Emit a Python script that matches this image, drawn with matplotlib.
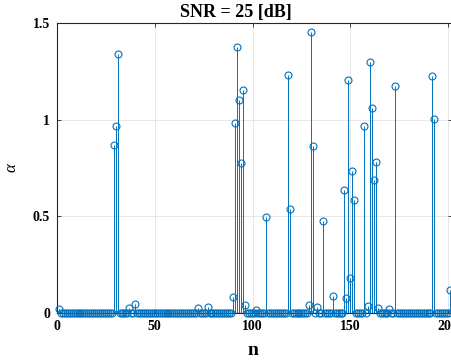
import numpy as np
import matplotlib.pyplot as plt

plt.rcParams['font.family'] = ['Liberation Serif', 'DejaVu Serif']
plt.rcParams['font.weight'] = 'bold'

# sample index and the non-zero coefficients
n = np.arange(1, 202)
peak_n = [1, 29, 30, 31, 37, 40, 72, 77, 90, 91, 92, 93, 94, 95, 96, 102,
          107, 118, 119, 129, 130, 131, 133, 136, 141, 147, 148, 149, 150,
          151, 152, 157, 159, 160, 161, 162, 163, 164, 170, 173, 192, 193, 201]
peak_val = [0.02, 0.87, 0.969, 1.338, 0.024, 0.047, 0.024, 0.03, 0.085, 0.983,
            1.377, 1.10, 0.775, 1.152, 0.042, 0.017, 0.494, 1.23, 0.54, 0.042,
            1.453, 0.862, 0.032, 0.475, 0.089, 0.638, 0.076, 1.203, 0.181,
            0.737, 0.582, 0.969, 0.034, 1.296, 1.058, 0.69, 0.783, 0.024, 0.02,
            1.176, 1.227, 1.002, 0.12]

alpha = np.zeros(len(n))
alpha[np.array(peak_n) - 1] = peak_val

blue = '#0072BD'
dark = '#262626'

fig = plt.figure(figsize=(4.51, 3.62), dpi=100)
ax = fig.add_axes([57 / 451, 49 / 362, 395 / 451, 290 / 362])

ax.axhline(0, color=dark, lw=0.9, zorder=2)
markerline, stemlines, baseline = ax.stem(n, alpha, linefmt='-', basefmt=' ')
plt.setp(stemlines, color=blue, linewidth=0.7, zorder=3)
plt.setp(markerline, color=blue, markerfacecolor='none', markersize=5,
         markeredgewidth=0.8, zorder=4)
markerline.set_clip_on(False)

ax.set_xlim(0, 202)
ax.set_ylim(0, 1.5)
ax.set_xticks([0, 50, 100, 150, 200])
ax.set_yticks([0, 0.5, 1, 1.5])
ax.set_yticklabels(['0', '0.5', '1', '1.5'])
ax.tick_params(direction='in', top=True, right=True, length=3, width=0.6,
               labelsize=10, color=dark, pad=5)
ax.grid(True, color='#e3e3e3', lw=0.6)
ax.set_axisbelow(True)
for s in ax.spines.values():
    s.set_color(dark)
    s.set_linewidth(0.8)

ax.set_title('SNR = 25 [dB]', fontsize=13, fontweight='bold', x=0.454, pad=4)
ax.set_xlabel('n', fontsize=14, fontweight='bold')
ax.xaxis.set_label_coords(0.496, -0.1)
ax.set_ylabel('α', fontsize=12, fontweight='normal', fontstyle='italic')
ax.yaxis.set_label_coords(-0.094, 0.5)

fig.savefig('out.png', dpi=100)
